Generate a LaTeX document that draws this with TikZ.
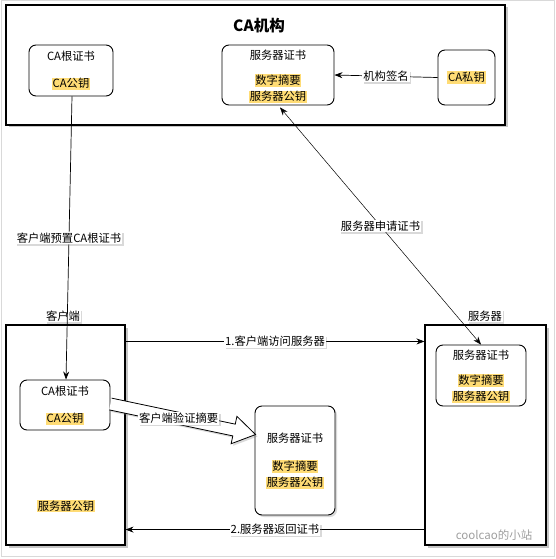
\documentclass[tikz,border=0pt]{standalone}
\usepackage{fontspec}
\setmainfont{Noto Sans CJK SC}
\usetikzlibrary{shadows,calc,arrows.meta}
\definecolor{hl}{HTML}{FFDC75}
\begin{document}
\begin{tikzpicture}[x=1pt,y=-1pt, font=\fontsize{11.3}{13}\selectfont,
 box/.style={draw=black, line width=1.1pt, fill=white, drop shadow={shadow xshift=2.5pt,shadow yshift=-2.5pt,opacity=0.45}},
 rbox/.style={draw=black, line width=0.9pt, rounded corners=7pt, fill=white},
 txt/.style={inner sep=0.5pt},
 hltxt/.style={fill=hl, inner sep=0.8pt},
 lbl/.style={fill=white, inner sep=1pt, drop shadow={shadow xshift=1.5pt,shadow yshift=-1.5pt,opacity=0.3}},
 conn/.style={line width=0.7pt, -{Stealth[length=8pt,width=6pt]}},
]
\useasboundingbox (0,0) rectangle (555,559);
\draw[gray!30, line width=1pt] (1,1) rectangle (554,556);

% CA institution
\node[box, minimum width=499pt, minimum height=120pt] (ca) at (255.5,65) {};
\node[font=\fontsize{15.5}{18}\selectfont\bfseries] (catitle) at (259,26) {CA机构};

\node[rbox, minimum width=84pt, minimum height=51pt] (caroot) at (71,70.5) {};
\node[txt] (carootT) at ($(caroot.north)+(0,12)$) {CA根证书};
\node[hltxt] (carootK) at ($(caroot.north)+(0,39)$) {CA公钥};

\node[rbox, minimum width=112pt, minimum height=60pt] (scert) at (278,75) {};
\node[txt] (scertT) at ($(scert.north)+(0,11)$) {服务器证书};
\node[hltxt] (scertD) at ($(scert.north)+(0,36)$) {数字摘要};
\node[hltxt] (scertK) at ($(scert.north)+(0,52)$) {服务器公钥};

\node[rbox, minimum width=57pt, minimum height=55pt] (capriv) at (466.5,77.5) {};
\node[hltxt] (caprivT) at (capriv.center) {CA私钥};

% client
\node[box, minimum width=119pt, minimum height=220pt] (client) at (65.5,435) {};
\node[lbl] (clientL) at (63,316) {客户端};
\node[rbox, minimum width=90pt, minimum height=50pt] (ccert) at (65,405) {};
\node[txt] (ccertT) at ($(ccert.north)+(0,12)$) {CA根证书};
\node[hltxt] (ccertK) at ($(ccert.north)+(0,39)$) {CA公钥};
\node[hltxt] (cpub) at (66,506) {服务器公钥};

% middle certificate
\node[rbox, minimum width=80pt, minimum height=109pt, drop shadow={shadow xshift=2pt,shadow yshift=-2pt,opacity=0.3}] (mcert) at (295,460.5) {};
\node[txt] (mcertT) at ($(mcert.north)+(0,33)$) {服务器证书};
\node[hltxt] (mcertD) at ($(mcert.north)+(0,61)$) {数字摘要};
\node[hltxt] (mcertK) at ($(mcert.north)+(0,77)$) {服务器公钥};

% server
\node[box, minimum width=121pt, minimum height=220pt] (server) at (485.5,435) {};
\node[lbl] (serverL) at (485,316) {服务器};
\node[rbox, minimum width=90pt, minimum height=61pt] (sccert) at (481,375.5) {};
\node[txt] (sccertT) at ($(sccert.north)+(0,11)$) {服务器证书};
\node[hltxt] (sccertD) at ($(sccert.north)+(0,36)$) {数字摘要};
\node[hltxt] (sccertK) at ($(sccert.north)+(0,52)$) {服务器公钥};

% connectors
\draw[conn] ($(caroot.south)+(1,0)$) -- ($(ccert.north)+(1,0)$)
  node[lbl, pos=0.5] {客户端预置CA根证书};
\draw[conn] (capriv.west) -- (scert.east) node[lbl, pos=0.5] {机构签名};
\draw[line width=0.5pt, {Stealth[length=8pt,width=6pt]}-{Stealth[length=8pt,width=6pt]}]
  ($(scert.south)+(2,2)$) -- (sccert.north) node[lbl, pos=0.5] {服务器申请证书};
\draw[conn] ($(client.north east)+(0,17)$) coordinate (a1) -- (a1 -| server.west)
  node[lbl, midway] {1.客户端访问服务器};
\draw[conn] ($(server.south west)+(0,-16)$) coordinate (a2) -- (a2 -| client.east)
  node[lbl, midway] {2.服务器返回证书};

% hollow arrow
\coordinate (hs) at ($(ccert.east)+(0,-1)$);
\coordinate (ht) at ($(mcert.north west)+(1,29)$);
\coordinate (hb) at ($(ht)!22pt!(hs)$);
\draw[fill=white, line width=0.8pt, line join=miter, drop shadow={shadow xshift=2pt,shadow yshift=-2pt,opacity=0.3}]
  ($(hs)!6pt!90:(ht)$) -- ($(hb)!6pt!90:(ht)$) -- ($(hb)!14pt!90:(ht)$) -- (ht)
  -- ($(hb)!14pt!-90:(ht)$) -- ($(hb)!6pt!-90:(ht)$) -- ($(hs)!6pt!-90:(ht)$);
\node[lbl] (verify) at ($(hs)!0.47!(ht)$) {客户端验证摘要};

% watermark
\node[text=gray!75, font=\fontsize{11.5}{13}\selectfont] (wm) at (494,535) {coolcao的小站};
\end{tikzpicture}
\end{document}
